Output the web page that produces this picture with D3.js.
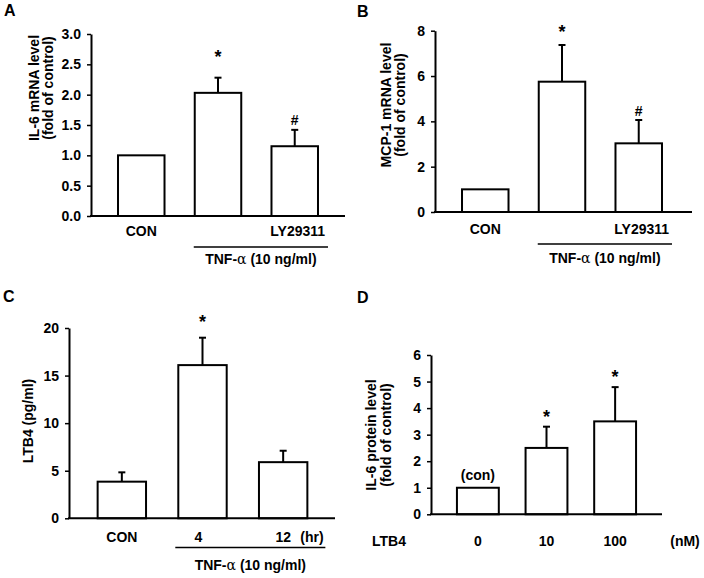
<!DOCTYPE html>
<html>
<head>
<meta charset="utf-8">
<script src="https://cdn.jsdelivr.net/npm/d3@7"></script>
<style>
  html, body { margin: 0; padding: 0; background: #fff; }
  svg text { font-family: "Liberation Sans", Arial, Helvetica, sans-serif; font-weight: bold; fill: #000; }
</style>
</head>
<body>
<svg id="chart" width="704" height="578"></svg>
<script>
// ---------- DATA ----------
// Panel A: IL-6 mRNA
const catA = ["CON", "TNF", "LY29311"];
const labelA = ["CON", "", "LY29311"];
const valA = [1.0, 2.03, 1.15];
const errA = [0, 0.25, 0.27];
const markA = ["", "*", "#"];
const ticksA = [0, 0.5, 1.0, 1.5, 2.0, 2.5, 3.0];

// Panel B: MCP-1 mRNA
const catB = ["CON", "TNF", "LY29311"];
const labelB = ["CON", "", "LY29311"];
const valB = [1.0, 5.75, 3.03];
const errB = [0, 1.62, 1.03];
const markB = ["", "*", "#"];
const ticksB = [0, 2, 4, 6, 8];

// Panel C: LTB4
const catC = ["CON", "4", "12"];
const labelC = ["CON", "4", "12"];
const valC = [3.85, 16.1, 5.9];
const errC = [0.98, 2.88, 1.2];
const markC = ["", "*", ""];
const ticksC = [0, 5, 10, 15, 20];

// Panel D: IL-6 protein
const catD = ["0", "10", "100"];
const labelD = ["0", "10", "100"];
const valD = [1.0, 2.5, 3.5];
const errD = [0, 0.8, 1.29];
const markD = ["(con)", "*", "*"];
const ticksD = [0, 1, 2, 3, 4, 5, 6];

// ---------- LAYOUT ----------
const FS = 14;
const svg = d3.select("#chart");
svg.append("rect").attr("width", 704).attr("height", 578).attr("fill", "#fff");

const panels = [
  { letter: "A", lx: 4, ly: 16, cats: catA, labels: labelA, vals: valA, errs: errA, marks: markA,
    ticks: ticksA, fmt: d3.format(".1f"), x0: 91, x1: 345, axisEnd: 345, y0: 216, y1: 34,
    pi: 0.394, po: 0.352, ylab: ["IL-6 mRNA level", "(fold of control)"], ylabX: [34, 48], ylabY: 88,
    catY: 236, starGap: 15, hashGap: 5, tnf: { lineY: 247, extR: 10, extL: 1, textY: 264 } },
  { letter: "B", lx: 357, ly: 17, cats: catB, labels: labelB, vals: valB, errs: errB, marks: markB,
    ticks: ticksB, fmt: d3.format("d"), x0: 435, x1: 689, axisEnd: 692, y0: 212, y1: 30.7,
    pi: 0.394, po: 0.352, ylab: ["MCP-1 mRNA level", "(fold of control)"], ylabX: [386, 400], ylabY: 105,
    catY: 234, starGap: 7, hashGap: 4, tnf: { lineY: 244, extR: 10, extL: 1, textY: 263 } },
  { letter: "C", lx: 3, ly: 302, cats: catC, labels: labelC, vals: valC, errs: errC, marks: markC,
    ticks: ticksC, fmt: d3.format("d"), x0: 69, x1: 336, axisEnd: 335, y0: 518.3, y1: 328,
    pi: 0.4, po: 0.355, ylab: ["LTB4 (pg/ml)"], ylabX: [28], ylabY: 421,
    catY: 542, starGap: 10, hashGap: 5, unit: "(hr)", unitX: 312,
    tnf: { lineY: 547.5, extR: 18, extL: 3, textY: 570 } },
  { letter: "D", lx: 357, ly: 303, cats: catD, labels: labelD, vals: valD, errs: errD, marks: markD,
    ticks: ticksD, fmt: d3.format("d"), x0: 431, x1: 662, axisEnd: 662, y0: 514.3, y1: 355,
    pi: 0.39, po: 0.378, ylab: ["IL-6 protein level", "(fold of control)"], ylabX: [371, 386], ylabY: 435,
    catY: 546, starGap: 4, hashGap: 4, unit: "(nM)", unitX: 685, leftLab: "LTB4", leftX: 389 }
];

panels.forEach(p => {
  const g = svg.append("g");
  const x = d3.scaleBand().domain(p.cats).range([p.x0, p.x1]).paddingInner(p.pi).paddingOuter(p.po);
  const y = d3.scaleLinear().domain([p.ticks[0], p.ticks[p.ticks.length - 1]]).range([p.y0, p.y1]);

  // panel letter
  g.append("text").attr("x", p.lx).attr("y", p.ly).attr("font-size", 16).text(p.letter);

  // bars
  g.selectAll("rect.bar").data(p.vals).join("rect")
    .attr("class", "bar")
    .attr("x", (d, i) => x(p.cats[i]))
    .attr("width", x.bandwidth())
    .attr("y", d => y(d))
    .attr("height", d => y(0) - y(d))
    .attr("fill", "#fff").attr("stroke", "#000").attr("stroke-width", 2);

  // error bars (upper only)
  p.vals.forEach((v, i) => {
    if (!p.errs[i]) return;
    const cx = x(p.cats[i]) + x.bandwidth() / 2;
    g.append("line").attr("x1", cx).attr("x2", cx).attr("y1", y(v)).attr("y2", y(v + p.errs[i]))
      .attr("stroke", "#000").attr("stroke-width", 2);
    g.append("line").attr("x1", cx - 3.5).attr("x2", cx + 3.5)
      .attr("y1", y(v + p.errs[i])).attr("y2", y(v + p.errs[i]))
      .attr("stroke", "#000").attr("stroke-width", 2);
  });

  // annotations
  p.marks.forEach((m, i) => {
    if (!m) return;
    const cx = x(p.cats[i]) + x.bandwidth() / 2;
    const top = y(p.vals[i] + p.errs[i]);
    let gap = m === "*" ? p.starGap : (m === "#" ? p.hashGap : 8);
    g.append("text").attr("x", cx).attr("y", top - gap)
      .attr("text-anchor", "middle")
      .attr("font-size", m === "*" ? 18 : FS)
      .attr("font-weight", m === "#" ? "normal" : "bold")
      .text(m);
  });

  // y axis
  const ax = g.append("g").attr("transform", `translate(${p.x0},0)`)
    .call(d3.axisLeft(y).tickValues(p.ticks).tickFormat(p.fmt).tickSize(4).tickSizeOuter(0).tickPadding(6));
  ax.select(".domain").attr("stroke", "#000").attr("stroke-width", 2);
  ax.selectAll(".tick line").attr("stroke", "#000").attr("stroke-width", 1.5);
  ax.selectAll(".tick text").attr("font-size", FS).attr("font-family", "Liberation Sans, Arial, sans-serif")
    .attr("font-weight", "bold").attr("fill", "#000");

  // x axis baseline
  g.append("line").attr("x1", p.x0 - 1).attr("x2", p.axisEnd).attr("y1", y(0)).attr("y2", y(0))
    .attr("stroke", "#000").attr("stroke-width", 2);

  // category labels
  p.labels.forEach((l, i) => {
    if (!l) return;
    g.append("text").attr("x", x(p.cats[i]) + x.bandwidth() / 2 + (l === "LY29311" ? 3 : 0) - (l === "4" ? 4 : 0))
      .attr("y", p.catY).attr("text-anchor", "middle").attr("font-size", FS).text(l);
  });
  if (p.unit) {
    g.append("text").attr("x", p.unitX).attr("y", p.catY).attr("text-anchor", "middle").attr("font-size", FS).text(p.unit);
  }
  if (p.leftLab) {
    g.append("text").attr("x", p.leftX).attr("y", p.catY).attr("text-anchor", "middle").attr("font-size", FS).text(p.leftLab);
  }

  // TNF bracket
  if (p.tnf) {
    const lx1 = x(p.cats[1]) - p.tnf.extL;
    const lx2 = x(p.cats[2]) + x.bandwidth() + p.tnf.extR;
    g.append("line").attr("x1", lx1).attr("x2", lx2).attr("y1", p.tnf.lineY).attr("y2", p.tnf.lineY)
      .attr("stroke", "#000").attr("stroke-width", 1.5);
    const t = g.append("text").attr("x", (lx1 + lx2) / 2).attr("y", p.tnf.textY)
      .attr("text-anchor", "middle").attr("font-size", FS);
    t.append("tspan").text("TNF-");
    t.append("tspan").attr("font-weight", "normal").attr("font-family", "DejaVu Serif, serif").text("α");
    t.append("tspan").text(" (10 ng/ml)");
  }

  // y label
  p.ylab.forEach((l, i) => {
    g.append("text")
      .attr("transform", `translate(${p.ylabX[i]},${p.ylabY}) rotate(-90)`)
      .attr("text-anchor", "middle").attr("dominant-baseline", "central")
      .attr("font-size", FS).text(l);
  });
});
</script>
</body>
</html>
